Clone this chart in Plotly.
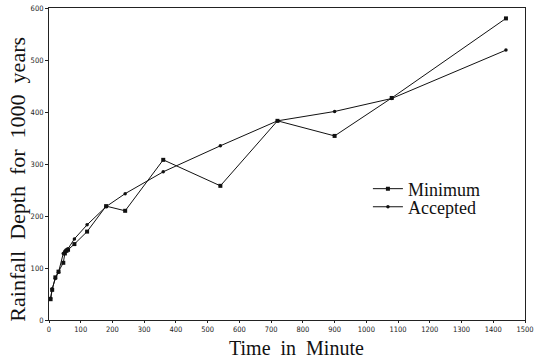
import plotly.graph_objects as go

durations = [5, 10, 20, 30, 45, 50, 55, 60, 80, 120, 180, 240, 360, 540, 720, 900, 1080, 1440]
minimum_depth = [40, 58, 82, 93, 110, 128, 133, 135, 146, 170, 219, 210, 308, 258, 383, 354, 427, 580]
accepted_depth = [42, 60, 80, 92, 128, 132, 135, 137, 156, 183, 218, 243, 285, 335, 383, 401, 426, 519]
x_ticks = list(range(0, 1501, 100))
y_ticks = list(range(0, 601, 100))
x_title = "Time  in  Minute"
y_title = "Rainfall  Depth  for  1000  years"

serif = "Liberation Serif, Times New Roman, serif"
tickfont = dict(family="DejaVu Sans Condensed, DejaVu Sans, sans-serif", size=7.5, color="#222")
legfont = dict(family=serif, size=18, color="#111")

fig = go.Figure()
fig.add_trace(go.Scatter(
    x=durations, y=minimum_depth, name="Minimum", mode="lines+markers",
    line=dict(color="#111", width=1),
    marker=dict(symbol="square", size=4, color="#111"),
    legend="legend",
))
fig.add_trace(go.Scatter(
    x=durations, y=accepted_depth, name="Accepted", mode="lines+markers",
    line=dict(color="#111", width=1),
    marker=dict(symbol="circle", size=3.5, color="#111"),
    legend="legend2",
))

fig.update_layout(
    width=535, height=361,
    margin=dict(l=49, r=10, t=8, b=41, autoexpand=False),
    paper_bgcolor="white", plot_bgcolor="white",
    showlegend=True,
    legend=dict(
        x=0.67, y=0.42, xanchor="left", yanchor="middle",
        bgcolor="rgba(0,0,0,0)", font=legfont, itemwidth=30,
    ),
    legend2=dict(
        x=0.67, y=0.362, xanchor="left", yanchor="middle",
        bgcolor="rgba(0,0,0,0)", font=legfont, itemwidth=30,
    ),
    xaxis=dict(
        range=[0, 1500], tickvals=x_ticks, ticktext=[str(v) for v in x_ticks],
        showgrid=False, zeroline=False, automargin=False,
        showline=True, linecolor="#222", linewidth=1, mirror=True,
        ticks="outside", ticklen=2, tickcolor="#222",
        tickfont=tickfont,
    ),
    yaxis=dict(
        range=[0, 600], tickvals=y_ticks, ticktext=[str(v) for v in y_ticks],
        showgrid=False, zeroline=False, automargin=False,
        showline=True, linecolor="#222", linewidth=1, mirror=True,
        ticks="outside", ticklen=3, tickcolor="#222",
        tickfont=tickfont,
    ),
    annotations=[
        dict(text=x_title, xref="paper", yref="paper", x=0.519, y=-0.09,
             xanchor="center", yanchor="middle", showarrow=False,
             font=dict(family=serif, size=20, color="#111")),
        dict(text=y_title, xref="paper", yref="paper", x=-0.065, y=0.45,
             xanchor="center", yanchor="middle", showarrow=False, textangle=-90,
             font=dict(family=serif, size=22, color="#111")),
    ],
)

fig.write_html("out.html", config={"displayModeBar": False},
               post_script="document.body.style.margin='0';")
